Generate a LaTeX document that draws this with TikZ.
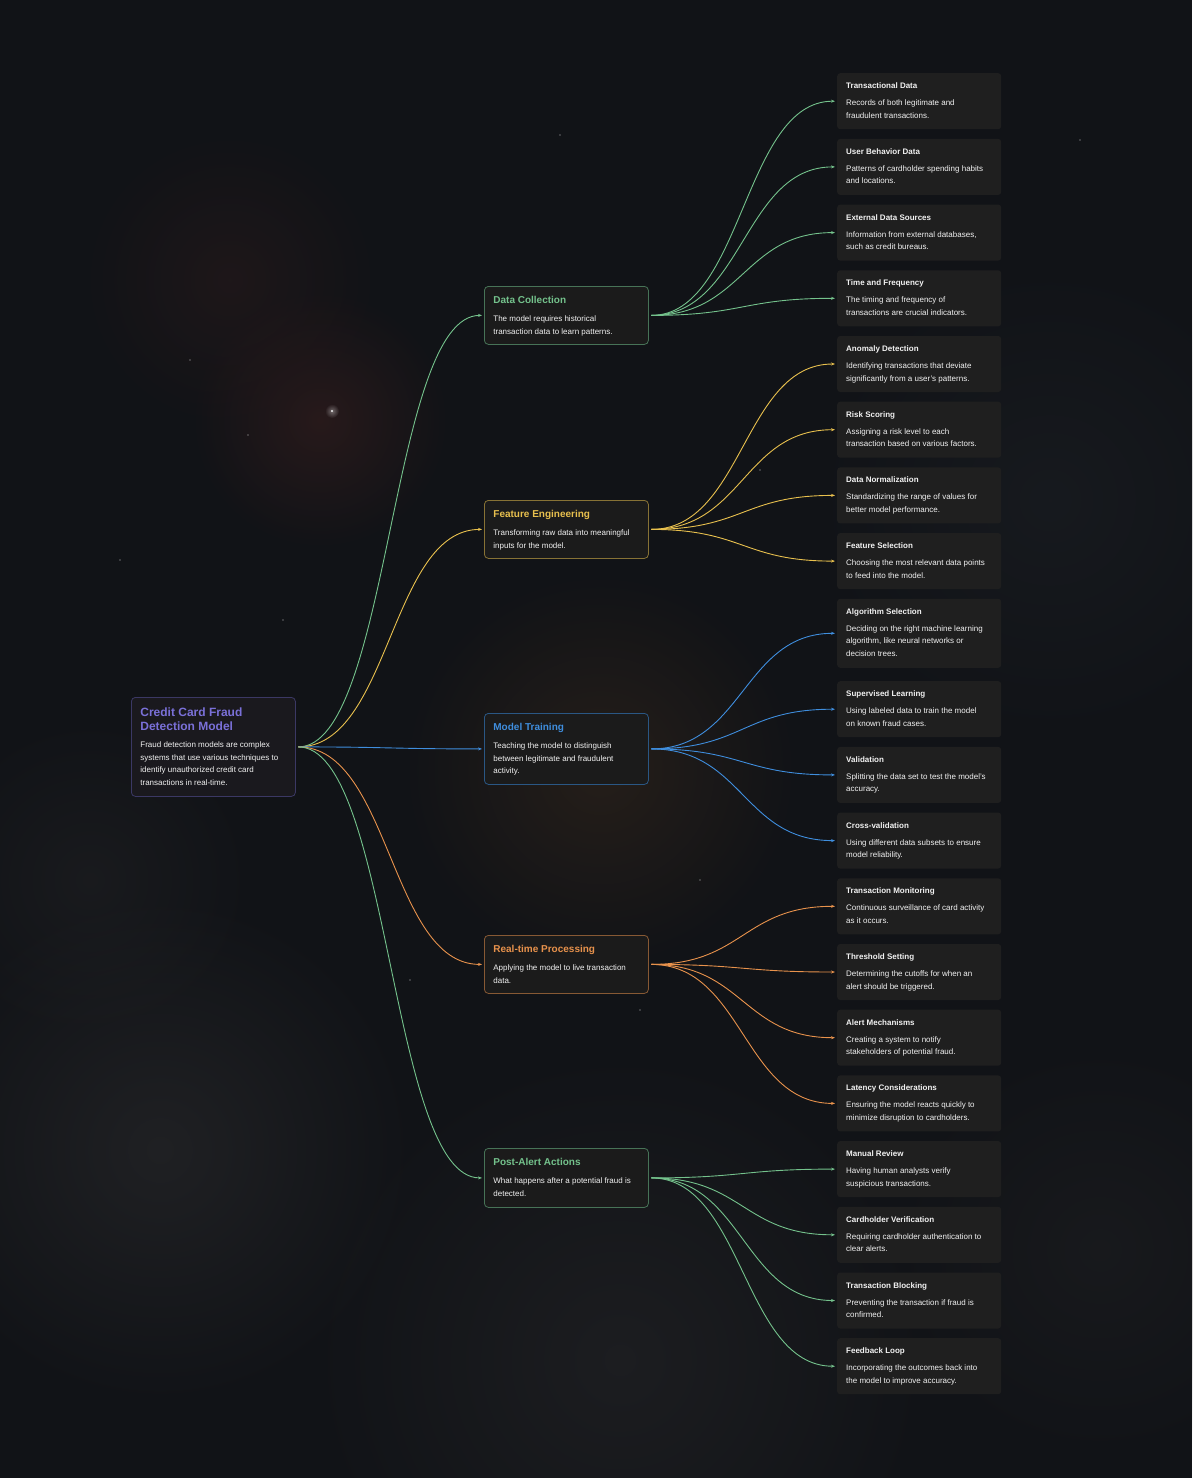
\documentclass[tikz,border=0pt]{standalone}
\usepackage{fontspec}
\setmainfont{Liberation Sans}
\usetikzlibrary{arrows.meta,calc,fadings}
\tikzfading[name=glowfade, inner color=transparent!0, outer color=transparent!100]
\definecolor{bgc}{HTML}{111317}
\definecolor{cgreen}{HTML}{74C28C}
\definecolor{cyellow}{HTML}{E8C04E}
\definecolor{cblue}{HTML}{3F8EDE}
\definecolor{corange}{HTML}{E8924C}
\definecolor{cpurple}{HTML}{7A70D8}
\definecolor{boxfill}{HTML}{1B1B1B}
\definecolor{leaffill}{HTML}{1F1F1F}
\definecolor{rootfill}{HTML}{1A191E}
\definecolor{txt}{HTML}{F2F2F2}
\definecolor{bga}{HTML}{3A1F1E}
\definecolor{bgb}{HTML}{2E1C1C}
\definecolor{bgcc}{HTML}{3A2A1C}
\definecolor{bgd}{HTML}{2C2C2E}
\definecolor{bge}{HTML}{28282A}
\definecolor{bgf}{HTML}{262628}
\definecolor{bgg}{HTML}{20242A}

\newcommand{\leafcontent}[3]{\parbox[t][#1][t]{164pt}{\raggedright\leftskip=9pt\fontsize{8}{12.5}\selectfont\rule{0pt}{15.5pt}\textbf{#2}\par\vspace{4.5pt}#3\par}}
\newcommand{\midcontent}[4]{\parbox[t][#1][t]{164pt}{\raggedright\leftskip=9pt\rule{0pt}{17.3pt}{\fontsize{10}{12}\selectfont\bfseries\color{#2}#3\par}\fontsize{8}{12.8}\selectfont\vspace{4.7pt}#4\par}}
\newcommand{\conn}[3]{\draw[connst,#3] let \p1=($(#1.east)+(2.5,0)$), \p2=($(#2.west)+(-2,0)$), \p3=($(\p1)!0.5!(\p2)$) in (\p1) .. controls (\x3,\y1) and (\x3,\y2) .. (\p2);}

\tikzset{
  leafst/.style={fill=leaffill, rounded corners=3pt, inner sep=0pt, anchor=north west, text=txt},
  midst/.style={fill=boxfill, draw=#1!55!bgc, line width=0.8pt, rounded corners=4pt, inner sep=0pt, anchor=north west, text=txt},
  rootst/.style={fill=rootfill, draw=cpurple!40!bgc, line width=0.8pt, rounded corners=4pt, inner sep=0pt, anchor=north west, text=txt},
  connst/.style={line width=0.9pt, -{Stealth[length=4pt,width=3pt]}},
  glow/.style={path fading=glowfade},
}

\begin{document}
\begin{tikzpicture}[x=1pt,y=-1pt]
\useasboundingbox (0,0) rectangle (1192,1478);
\fill[bgc] (0,0) rectangle (1192,1478);
% background atmosphere
\fill[bga, opacity=0.55, glow] (320,420) circle (130);
\fill[bgb, opacity=0.45, glow] (230,280) circle (150);
\fill[bgcc, opacity=0.5, glow] (600,770) circle (200);
\fill[bgd, opacity=0.55, glow] (160,1150) circle (260);
\fill[bge, opacity=0.5, glow] (620,1360) circle (320);
\fill[bgf, opacity=0.4, glow] (90,880) circle (170);
\fill[bgg, opacity=0.4, glow] (1050,500) circle (250);
\fill[bgf, opacity=0.35, glow] (1100,1250) circle (220);
\fill[white, opacity=0.35, glow] (332,411) circle (7);
\fill[white, opacity=0.9] (332,411) circle (1.2);
\foreach \sx/\sy in {248/435, 560/135, 283/620, 700/880, 760/470, 120/560, 410/980, 1080/140, 640/1010, 190/360}
  \fill[white, opacity=0.35] (\sx,\sy) circle (0.8);

% root
\node[rootst] (root) at (131,697) {\parbox[t][99pt][t]{164pt}{\raggedright\leftskip=9pt\rule{0pt}{19pt}{\fontsize{12}{13.8}\selectfont\bfseries\color{cpurple}Credit Card Fraud\\Detection Model\par}\fontsize{8}{12.5}\selectfont\vspace{5.1pt}Fraud detection models are complex\\systems that use various techniques to\\identify unauthorized credit card\\transactions in real-time.\par}};

% level 1
\node[midst=cgreen] (dc) at (484,286) {\midcontent{58pt}{cgreen}{Data Collection}{The model requires historical\\transaction data to learn patterns.}};
\node[midst=cyellow] (fe) at (484,500) {\midcontent{58pt}{cyellow}{Feature Engineering}{Transforming raw data into meaningful\\inputs for the model.}};
\node[midst=cblue] (mt) at (484,713) {\midcontent{71pt}{cblue}{Model Training}{Teaching the model to distinguish\\between legitimate and fraudulent\\activity.}};
\node[midst=corange] (rt) at (484,935) {\midcontent{58pt}{corange}{Real-time Processing}{Applying the model to live transaction\\data.}};
\node[midst=cgreen] (pa) at (484,1148) {\midcontent{59pt}{cgreen}{Post-Alert Actions}{What happens after a potential fraud is\\detected.}};

% leaves
\node[leafst] (l1) at (837,73) {\leafcontent{56pt}{Transactional Data}{Records of both legitimate and\\fraudulent transactions.}};
\node[leafst] (l2) at (837,138.7) {\leafcontent{56pt}{User Behavior Data}{Patterns of cardholder spending habits\\and locations.}};
\node[leafst] (l3) at (837,204.4) {\leafcontent{56pt}{External Data Sources}{Information from external databases,\\such as credit bureaus.}};
\node[leafst] (l4) at (837,270.1) {\leafcontent{56pt}{Time and Frequency}{The timing and frequency of\\transactions are crucial indicators.}};
\node[leafst] (l5) at (837,335.8) {\leafcontent{56pt}{Anomaly Detection}{Identifying transactions that deviate\\significantly from a user's patterns.}};
\node[leafst] (l6) at (837,401.5) {\leafcontent{56pt}{Risk Scoring}{Assigning a risk level to each\\transaction based on various factors.}};
\node[leafst] (l7) at (837,467.2) {\leafcontent{56pt}{Data Normalization}{Standardizing the range of values for\\better model performance.}};
\node[leafst] (l8) at (837,532.9) {\leafcontent{56pt}{Feature Selection}{Choosing the most relevant data points\\to feed into the model.}};
\node[leafst] (l9) at (837,598.6) {\leafcontent{69pt}{Algorithm Selection}{Deciding on the right machine learning\\algorithm, like neural networks or\\decision trees.}};
\node[leafst] (l10) at (837,681) {\leafcontent{56pt}{Supervised Learning}{Using labeled data to train the model\\on known fraud cases.}};
\node[leafst] (l11) at (837,746.7) {\leafcontent{56pt}{Validation}{Splitting the data set to test the model's\\accuracy.}};
\node[leafst] (l12) at (837,812.4) {\leafcontent{56pt}{Cross-validation}{Using different data subsets to ensure\\model reliability.}};
\node[leafst] (l13) at (837,878.1) {\leafcontent{56pt}{Transaction Monitoring}{Continuous surveillance of card activity\\as it occurs.}};
\node[leafst] (l14) at (837,943.8) {\leafcontent{56pt}{Threshold Setting}{Determining the cutoffs for when an\\alert should be triggered.}};
\node[leafst] (l15) at (837,1009.5) {\leafcontent{56pt}{Alert Mechanisms}{Creating a system to notify\\stakeholders of potential fraud.}};
\node[leafst] (l16) at (837,1075.2) {\leafcontent{56pt}{Latency Considerations}{Ensuring the model reacts quickly to\\minimize disruption to cardholders.}};
\node[leafst] (l17) at (837,1140.9) {\leafcontent{56pt}{Manual Review}{Having human analysts verify\\suspicious transactions.}};
\node[leafst] (l18) at (837,1206.6) {\leafcontent{56pt}{Cardholder Verification}{Requiring cardholder authentication to\\clear alerts.}};
\node[leafst] (l19) at (837,1272.3) {\leafcontent{56pt}{Transaction Blocking}{Preventing the transaction if fraud is\\confirmed.}};
\node[leafst] (l20) at (837,1338) {\leafcontent{56pt}{Feedback Loop}{Incorporating the outcomes back into\\the model to improve accuracy.}};

% connectors root -> level 1
\conn{root}{dc}{cgreen}
\conn{root}{fe}{cyellow}
\conn{root}{mt}{cblue}
\conn{root}{rt}{corange}
\conn{root}{pa}{cgreen}

% level 1 -> leaves
\foreach \l in {l1,l2,l3,l4}{\conn{dc}{\l}{cgreen}}
\foreach \l in {l5,l6,l7,l8}{\conn{fe}{\l}{cyellow}}
\foreach \l in {l9,l10,l11,l12}{\conn{mt}{\l}{cblue}}
\foreach \l in {l13,l14,l15,l16}{\conn{rt}{\l}{corange}}
\foreach \l in {l17,l18,l19,l20}{\conn{pa}{\l}{cgreen}}
\end{tikzpicture}
\end{document}
